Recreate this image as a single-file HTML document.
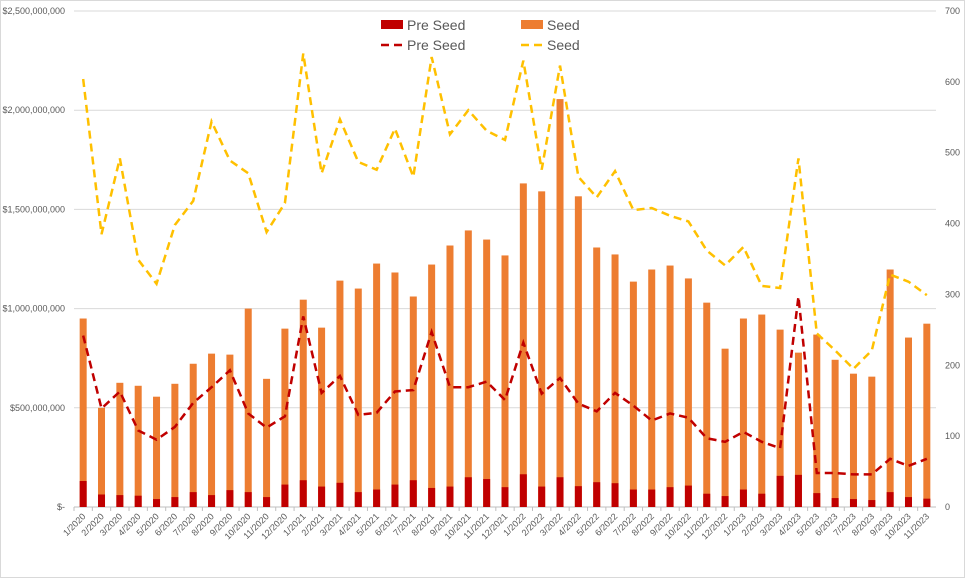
<!DOCTYPE html>
<html><head><meta charset="utf-8"><style>
body{margin:0;background:#fff;font-family:"Liberation Sans",sans-serif}
svg{display:block}
</style></head><body>
<svg id="chart" width="965" height="578" xmlns="http://www.w3.org/2000/svg">
<rect x="0.5" y="0.5" width="964" height="577" fill="#fff" stroke="#d9d9d9"/>
<g id="grid"></g><g id="bars"></g><g id="lines"></g><g id="axes"></g>
<g font-size="14" fill="#595959">
<rect x="381" y="20" width="22" height="9" fill="#c00000"/>
<text x="407" y="30">Pre Seed</text>
<rect x="521" y="20" width="22" height="9" fill="#ed7d31"/>
<text x="547" y="30">Seed</text>
<line x1="381" y1="45" x2="403" y2="45" stroke="#c00000" stroke-width="2.5" stroke-dasharray="8,5"/>
<text x="407" y="50">Pre Seed</text>
<line x1="521" y1="45" x2="543" y2="45" stroke="#ffc000" stroke-width="2.5" stroke-dasharray="8,5"/>
<text x="547" y="50">Seed</text>
</g>
</svg>
<script>
const categories=["1/2020","2/2020","3/2020","4/2020","5/2020","6/2020","7/2020","8/2020","9/2020","10/2020","11/2020","12/2020","1/2021","2/2021","3/2021","4/2021","5/2021","6/2021","7/2021","8/2021","9/2021","10/2021","11/2021","12/2021","1/2022","2/2022","3/2022","4/2022","5/2022","6/2022","7/2022","8/2022","9/2022","10/2022","11/2022","12/2022","1/2023","2/2023","3/2023","4/2023","5/2023","6/2023","7/2023","8/2023","9/2023","10/2023","11/2023"];
// amounts in $M
const seedAmount=[950,500,626,611,556,621,722,773,768,1000,646,899,1045,904,1141,1101,1227,1182,1061,1222,1318,1394,1348,1268,1631,1591,2056,1566,1308,1273,1136,1197,1217,1152,1030,798,950,970,894,778,869,742,672,657,1197,854,924];
const preSeedAmount=[131,63,60,57,40,50,75,60,85,75,50,113,135,103,122,75,88,113,135,96,103,150,141,100,165,103,150,105,125,120,88,88,100,108,67,55,88,67,157,162,70,45,40,35,75,50,42];
const preSeedCount=[242,139,163,108,95,113,147,169,193,132,112,128,269,161,185,130,133,163,165,247,169,169,177,151,232,160,182,146,135,161,143,122,132,126,97,92,106,92,83,297,48,48,46,46,68,58,68];
const seedCount=[604,385,492,349,315,398,432,544,489,471,388,429,640,471,547,487,476,534,466,635,526,560,531,518,630,476,623,466,437,474,419,422,411,403,362,341,367,312,309,492,245,221,195,221,328,318,299];
const leftTicks=["$-","$500,000,000","$1,000,000,000","$1,500,000,000","$2,000,000,000","$2,500,000,000"];
const rightTicks=[0,100,200,300,400,500,600,700];

const NS="http://www.w3.org/2000/svg";
const X0=74,X1=936,Y0=507,Y1=11;
const bw=(X1-X0)/categories.length;
const xc=i=>X0+bw*(i+0.5);
const yL=v=>Y0-(v/2500)*(Y0-Y1);
const yR=v=>Y0-(v/700)*(Y0-Y1);
function mk(tag,attrs,parent){const e=document.createElementNS(NS,tag);for(const k in attrs)e.setAttribute(k,attrs[k]);document.getElementById(parent).appendChild(e);return e;}

for(let i=0;i<leftTicks.length;i++){
  const y=yL(i*500);
  const g=mk("line",{x1:X0,x2:X1,y1:y,y2:y,stroke:i?"#d9d9d9":"#bfbfbf","stroke-width":1},"grid");
  
  
  const t=mk("text",{x:65,y:y+3,"text-anchor":"end","font-size":9,fill:"#595959"},"axes");
  t.textContent=leftTicks[i];
  
  
}
for(const v of rightTicks){
  const t=mk("text",{x:945,y:yR(v)+3,"font-size":9,fill:"#595959"},"axes");
  t.textContent=v;
  
  
}
categories.forEach((c,i)=>{
  const x=xc(i);
  const tk=mk("line",{x1:X0+bw*i,x2:X0+bw*i,y1:Y0,y2:Y0+4,stroke:"#bfbfbf"},"axes");
  
  
  const t=mk("text",{x:x+3,y:Y0+10,"text-anchor":"end","font-size":9,fill:"#595959",transform:`rotate(-45 ${x+3} ${Y0+10})`},"axes");
  t.textContent=c;
  
  
  const b=mk("rect",{x:x-3.5,width:7,y:yL(seedAmount[i]),height:Y0-yL(seedAmount[i]),fill:"#ed7d31"},"bars");
  
  
  const p=mk("rect",{x:x-3.5,width:7,y:yL(preSeedAmount[i]),height:Y0-yL(preSeedAmount[i]),fill:"#c00000"},"bars");
  
  
});
const sl=mk("polyline",{points:seedCount.map((v,i)=>xc(i)+","+yR(v)).join(" "),fill:"none",stroke:"#ffc000","stroke-width":2.5,"stroke-dasharray":"8,5"},"lines");


const pl=mk("polyline",{points:preSeedCount.map((v,i)=>xc(i)+","+yR(v)).join(" "),fill:"none",stroke:"#c00000","stroke-width":2.5,"stroke-dasharray":"8,5"},"lines");


</script>
</body></html>
